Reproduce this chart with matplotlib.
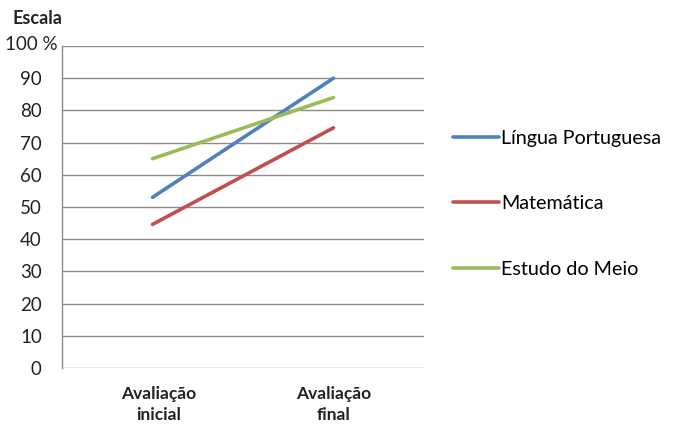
import matplotlib
matplotlib.use("Agg")
import matplotlib.pyplot as plt
import matplotlib.transforms as mtransforms
from matplotlib.patches import Rectangle

plt.rcParams['font.family'] = ['Lato', 'DejaVu Sans']

categories = ["Avaliação\ninicial", "Avaliação\nfinal"]
series_names = ["Língua Portuguesa", "Matemática", "Estudo do Meio"]
lingua = [53, 90]
matematica = [44.6, 74.6]
estudo = [65, 84]
colors = ["#4F81BD", "#C0504D", "#9BBB59"]
yticks = [0, 10, 20, 30, 40, 50, 60, 70, 80, 90]

W, H = 681, 425
fig = plt.figure(figsize=(W / 100, H / 100), dpi=100)
ax = fig.add_axes([62 / W, 1 - 368 / H, (424 - 62) / W, (368 - 46) / H])

xpos = [0.5, 1.5]
for vals, name, c in zip([lingua, matematica, estudo], series_names, colors):
    ax.plot(xpos, vals, color=c, lw=2.6, solid_capstyle='round', label=name)

ax.set_xlim(0, 2)
ax.set_ylim(0, 100)
ax.set_yticks(yticks + [100])
ax.set_yticklabels([str(v) for v in yticks] + [""], fontsize=13.5, color="#222222")
ax.set_xticks(xpos)
ax.set_xticklabels(categories, fontsize=12.5, fontweight='bold', color="#222222",
                   linespacing=1.4)
ax.tick_params(axis='y', length=0, pad=14.5)
ax.tick_params(axis='x', length=0, pad=13)
lbl0 = ax.get_xticklabels()[0]
lbl0.set_transform(lbl0.get_transform() + mtransforms.ScaledTranslation(6 / 100, 0, fig.dpi_scale_trans))
ax.grid(axis='y', color="#8C8C8C", lw=1.0)
ax.set_axisbelow(True)
for s in ['top', 'right', 'bottom']:
    ax.spines[s].set_visible(False)
ax.spines['left'].set_color("#8C8C8C")
ax.spines['left'].set_linewidth(1.0)

fig.text(58 / W, 1 - 45 / H, "100 %", ha='right', va='center', fontsize=13.5, color="#222222")
fig.text(12 / W, 1 - 19 / H, "Escala", ha='left', va='center', fontsize=13,
         fontweight='bold', color="#222222")
fig.add_artist(Rectangle((0, 0), 15 / W, 70 / H, transform=fig.transFigure,
                         facecolor='white', edgecolor='none', zorder=10))

leg = fig.legend(loc='upper left', bbox_to_anchor=(435 / W, 1 - 112 / H),
                 frameon=False, fontsize=14.2, handlelength=2.35, handletextpad=0.1,
                 labelspacing=2.46)
for line in leg.get_lines():
    line.set_linewidth(2.6)

fig.savefig("out.png", dpi=100)
